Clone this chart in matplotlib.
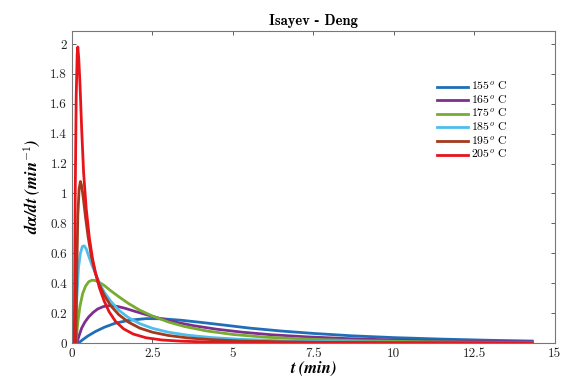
import matplotlib
matplotlib.use("Agg")
from matplotlib import pyplot as plt  # noqa
from matplotlib.ticker import FuncFormatter  # noqa

plt.rcParams['mathtext.fontset'] = 'cm'

# dalpha/dt curves (t in min, rate in 1/min)
t_155 = [0.2, 0.35, 0.5, 0.72, 1.0, 1.35, 1.8, 2.3, 2.8, 3.4, 4.0, 4.8, 5.5, 6.5, 7.5, 8.7, 10, 11.5, 13, 14.3]
r_155 = [0, 0.025, 0.048, 0.076, 0.105, 0.133, 0.153, 0.163, 0.162, 0.152, 0.138, 0.118, 0.1, 0.08, 0.064,
         0.048, 0.036, 0.026, 0.018, 0.013]

t_165 = [0.15, 0.22, 0.3, 0.4, 0.52, 0.66, 0.8, 0.98, 1.18, 1.4, 1.65, 1.95, 2.3, 2.7, 3.2, 3.8, 4.5, 5.3,
         6.2, 7.3, 8.6, 10, 11.5, 13, 14.3]
r_165 = [0, 0.05, 0.1, 0.14, 0.175, 0.205, 0.228, 0.244, 0.25, 0.245, 0.232, 0.212, 0.19, 0.166, 0.14, 0.115,
         0.092, 0.072, 0.055, 0.041, 0.029, 0.02, 0.014, 0.009, 0.007]

t_175 = [0.12, 0.18, 0.25, 0.33, 0.42, 0.52, 0.62, 0.72, 0.85, 1.0, 1.2, 1.45, 1.75, 2.1, 2.5, 3.0, 3.5, 4.2,
         5.0, 6.0, 7.5, 9, 11, 12.5, 14.3]
r_175 = [0, 0.14, 0.25, 0.33, 0.38, 0.41, 0.42, 0.418, 0.405, 0.385, 0.35, 0.31, 0.265, 0.22, 0.18, 0.14, 0.11,
         0.08, 0.057, 0.039, 0.024, 0.015, 0.008, 0.005, 0.003]

t_185 = [0.10, 0.15, 0.20, 0.26, 0.32, 0.38, 0.44, 0.52, 0.62, 0.72, 0.85, 1.0, 1.2, 1.45, 1.75, 2.1, 2.5,
         3.0, 3.6, 4.3, 5.2, 6.5, 8, 10, 12, 14.3]
r_185 = [0, 0.3, 0.5, 0.6, 0.645, 0.65, 0.63, 0.58, 0.52, 0.47, 0.4, 0.34, 0.28, 0.22, 0.17, 0.13, 0.098,
         0.072, 0.052, 0.037, 0.025, 0.015, 0.009, 0.005, 0.003, 0.0015]

t_195 = [0.12, 0.15, 0.18, 0.22, 0.26, 0.30, 0.35, 0.42, 0.50, 0.60, 0.72, 0.85, 1.0, 1.2, 1.45, 1.75, 2.1,
         2.5, 3.0, 3.6, 4.3, 5.2, 6.5, 8, 10, 12, 14.3]
r_195 = [0, 0.5, 0.85, 1.03, 1.08, 1.05, 0.97, 0.84, 0.71, 0.58, 0.47, 0.39, 0.32, 0.25, 0.19, 0.14, 0.1,
         0.072, 0.05, 0.034, 0.023, 0.014, 0.008, 0.004, 0.002, 0.001, 0.0005]

t_205 = [0.07, 0.10, 0.13, 0.16, 0.18, 0.21, 0.25, 0.30, 0.36, 0.44, 0.54, 0.64, 0.74, 0.85, 1.0, 1.15, 1.35,
         1.6, 1.9, 2.3, 2.8, 3.4, 4.2, 5.5, 7.5, 10, 14.3]
r_205 = [0, 1.0, 1.65, 1.93, 1.98, 1.9, 1.72, 1.43, 1.14, 0.9, 0.7, 0.56, 0.46, 0.37, 0.28, 0.21, 0.145,
         0.095, 0.06, 0.035, 0.02, 0.012, 0.007, 0.003, 0.001, 0.0005, 0.0002]

curves = [(t_155, r_155, '155', '#1f6fb8'),
          (t_165, r_165, '165', '#7e2f8e'),
          (t_175, r_175, '175', '#77ac30'),
          (t_185, r_185, '185', '#4dbeee'),
          (t_195, r_195, '195', '#a33a1c'),
          (t_205, r_205, '205', '#e8141c')]

x_ticks = [0, 2.5, 5, 7.5, 10, 12.5, 15]
y_ticks = [0, 0.2, 0.4, 0.6, 0.8, 1.0, 1.2, 1.4, 1.6, 1.8, 2.0]

fig = plt.figure(figsize=(5.64, 3.79), dpi=100)
ax = fig.add_axes([0.1277, 0.095, 0.856, 0.8245])

for t, r, temp, col in curves:
    ax.plot(t, r, color=col, lw=2.0, label=temp + r'$^o$ C')

ax.set_xlim(0, 15)
ax.set_ylim(0, 2.09)
ax.set_xticks(x_ticks)
ax.set_yticks(y_ticks)
ax.xaxis.set_major_formatter(FuncFormatter(lambda v, p: '%g' % v))
ax.yaxis.set_major_formatter(FuncFormatter(lambda v, p: '%g' % v))
ax.tick_params(direction='in', top=True, right=True, length=3, width=0.6, colors='#444444',
               labelsize=9.5, labelcolor='#222222')
for lab in ax.get_xticklabels() + ax.get_yticklabels():
    lab.set_fontfamily('cmr10')
for s in ax.spines.values():
    s.set_color('#777777')
    s.set_linewidth(0.8)

ax.set_title('Isayev - Deng', fontfamily='cmb10', fontsize=10.5, pad=4)
ax.set_xlabel('t (min)', fontfamily='STIXGeneral', fontweight='bold', fontstyle='italic', fontsize=12,
              labelpad=0)
ax.set_ylabel('dα/dt (min$^{-1}$)', fontfamily='STIXGeneral', fontweight='bold', fontstyle='italic',
              fontsize=12, labelpad=6)

leg = ax.legend(loc='upper right', bbox_to_anchor=(0.925, 0.875), frameon=False,
                handlelength=2.6, handletextpad=0.3, labelspacing=0.05, prop={'family': 'cmr10', 'size': 8.5})

fig.savefig('out.png', dpi=100)
